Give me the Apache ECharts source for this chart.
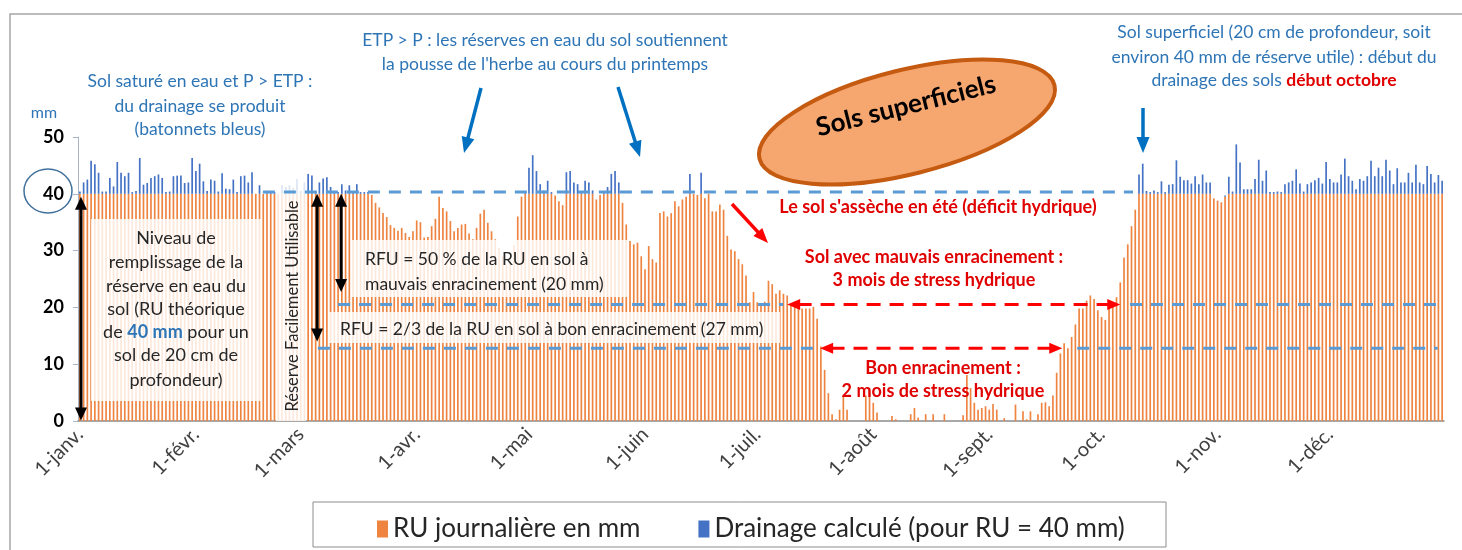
<!DOCTYPE html>
<html>
<head>
<meta charset="utf-8">
<script src="https://cdn.jsdelivr.net/npm/echarts@6/dist/echarts.min.js"></script>
<style>
  html, body { margin: 0; padding: 0; background: #fff; }
  #chart { width: 1462px; height: 550px; }
</style>
</head>
<body>
<div id="chart"></div>
<script>
// month labels and lengths (x axis)
const monthNames = ['janv.', 'févr.', 'mars', 'avr.', 'mai', 'juin', 'juil.', 'août', 'sept.', 'oct.', 'nov.', 'déc.'];
const monthDays = [31, 28, 31, 30, 31, 30, 31, 31, 30, 31, 30, 31];
const yTicks = [0, 10, 20, 30, 40, 50];

// RU journalière en mm, read month by month
const ruJan = [40,40,40,40,40,40,40,40,40,40,40,40,40,40,40,40,40,40,40,40,40,40,40,40,40,40,40,40,40,40,40];
const ruFeb = [40,40,40,40,40,40,40,40,40,40,40,40,40,40,40,40,40,40,40,40,40,40,40,40,40,40,40,40];
const ruMar = [40,40,40,40,40,40,40,40,40,40,40,40,40,40,40,40,40,40,40,39.8,38.4,37.6,36.6,35.9,34.5,34,33.5,34,33.1,32.4,33.4];
const ruApr = [35.3,35,32.3,32.4,34.3,35.6,39.5,37.5,36.9,35.2,33.4,34,34.6,34.7,33,32,34,36.5,37.2,34.9,33.4,32,30.5,29,27.5,29,31,36,39.5,40];
const ruMay = [40,40,40,40,40,40,40,39.7,38.7,38,40,40,40,40,40,40,40,40,39,39.8,40,40,40,40,40,38.4,34.6,31.7,31.1,31.4,29];
const ruJun = [26.7,30.8,28.5,27.9,36.6,36.9,36,36.6,38.7,37.8,39,39.5,40,40,39.8,40,39.2,40,36.9,36.9,38.1,37.2,32.6,30.2,29.9,28.5,27.6,25.6,20.9,22.7];
const ruJul = [20.9,20.6,21,24.7,24.1,22.4,23,22.4,22.1,20.6,20.6,20.1,19.8,19.8,19.8,20.1,18,13.1,9,4.9,1.2,0.3,2,4.4,2,0,0,0,0,4.5,5.8];
const ruAug = [3.2,1.5,0,0,0,0.9,0.3,0,0,0,1.2,2.3,0.6,0,1.2,0,1.2,0,0,1.2,0,0,0,0,1,8.1,5.8,3.2,2,2.3,2.6];
const ruSep = [2,3,2,0,0.5,0,0,2.9,0,1.7,0.3,1.7,0,1.2,3.2,3.3,2.6,4.5,8.5,11.9,13.7,12.8,14.8,17,19.8,19.8,21.2,22.1,21.5,19.5];
const ruOct = [18.3,17.8,20.1,20.9,21.8,24.4,28.8,31.1,34.3,37.2,40,40,40,40,40,40,40,40,40,40,40,40,40,40,40,40,40,40,40,40,39.2];
const ruNov = [38.8,38.5,39.5,40,40,40,40,40,40,40,40,40,40,40,40,40,40,40,40,40,40,40,40,40,40,40,40,40,40,40];
const ruDec = [40,40,40,40,40,40,40,40,40,40,40,40,40,40,40,40,40,40,40,40,40,40,40,40,40,40,40,40,40,40,40];

// Drainage calculé (pour RU = 40 mm)
const drJan = [0.4,2,2.5,5.8,5.2,3.7,0.4,0.4,2.8,1.3,5.6,3.7,3.1,3.7,0.3,0.5,6.3,1.6,1.9,2.8,3.1,3.4,2.8,0.3,0.4,3.1,3.2,3.2,1.9,2,6.3];
const drFeb = [4,5.3,2.2,0.5,2.5,2.3,0.4,3.6,0.9,0.8,2.5,0.3,3.1,3.2,2,3.8,0,1.5,0,0.3,0.3,0.3,0,1.5,1.2,1.5,1,2.6];
const drMar = [0.5,2,3.5,3.2,0.4,2,2.7,2.9,1.2,0.4,0.3,1.7,0.6,1.5,0.3,1.7,0.3,0.3,0.3,0,0,0,0,0,0,0,0,0,0,0,0];
const drApr = [0,0,0,0,0,0,0,0,0,0,0,0,0,0,0,0,0,0,0,0,0,0,0,0,0,0,0,0,0,0.5];
const drMay = [4.6,6.8,4,1.7,0.6,2.3,0.3,0,0,0,3.8,4,2,1.7,0.4,2.3,2,0.6,0,0,0.4,1.2,3.5,4,2,0,0,0,0,0,0];
const drJun = [0,0,0,0,0,0,0,0,0,0,0,0,3.5,0,0,3.7,0,0,0,0,0,0,0,0,0,0,0,0,0,0];
const drJul = [0,0,0,0,0,0,0,0,0,0,0,0,0,0,0,0,0,0,0,0,0,0,0,0,0,0,0,0,0,0,0];
const drAug = [0,0,0,0,0,0,0,0,0,0,0,0,0,0,0,0,0,0,0,0,0,0,0,0,0,0,0,0,0,0,0];
const drSep = [0,0,0,0,0,0,0,0,0,0,0,0,0,0,0,0,0,0,0,0,0,0,0,0,0,0,0,0,0,0];
const drOct = [0,0,0,0,0,0,0,0,0,0,3.4,5.3,0.5,0.3,0.6,0.3,2.2,0.3,1.6,1.7,5.9,3,2.4,2.4,1.8,3.1,1.7,3.4,2,2,0];
const drNov = [0,0,0.2,3,0.4,8.7,5.5,0.8,0.8,0.8,2.6,6,2.3,4.1,0.3,0.3,0.4,0.3,1.7,2,2.3,4.3,1.8,0.4,1.7,2,2.4,2.8,1.8,5.6];
const drDec = [2.6,2,2,3.4,6.2,3.1,2.3,0.8,2.6,2.3,3.1,5.8,3.1,4.6,3.1,6,4.1,1.7,4.5,2,2,3.7,2,5.1,2,1.7,4.9,3.5,2,3.3,2.3];

const ruDaily = [].concat(ruJan, ruFeb, ruMar, ruApr, ruMay, ruJun, ruJul, ruAug, ruSep, ruOct, ruNov, ruDec);
const drainage = [].concat(drJan, drFeb, drMar, drApr, drMay, drJun, drJul, drAug, drSep, drOct, drNov, drDec);

const days = [];
const monthStart = [];
monthDays.forEach(function (n, m) {
  monthStart.push(days.length);
  for (let d = 1; d <= n; d++) days.push(d + '-' + monthNames[m]);
});
const isMonthStart = function (i) { return monthStart.indexOf(i) >= 0; };

const FONT = 'Lato, "Noto Sans", sans-serif';
const BLUE_TXT = '#2E75B6';
const RED = '#E00000';

const chart = echarts.init(document.getElementById('chart'));
chart.setOption({
  animation: false,
  textStyle: { fontFamily: FONT },
  grid: { left: 78, right: 18, top: 137, bottom: 129 },
  legend: {
    data: ['RU journalière en mm', 'Drainage calculé (pour RU = 40 mm)'],
    left: 372, top: 511,
    icon: 'rect', itemWidth: 11, itemHeight: 17, itemGap: 58,
    textStyle: { fontSize: 26, color: '#262626', fontFamily: FONT }
  },
  xAxis: {
    type: 'category',
    data: days,
    axisLine: { lineStyle: { color: '#8C8C8C', width: 1.5 } },
    axisTick: { interval: isMonthStart, length: 6, lineStyle: { color: '#8C8C8C' } },
    axisLabel: { interval: isMonthStart, rotate: 45, fontSize: 20, color: '#404040', margin: 10 },
    splitLine: { show: false }
  },
  yAxis: {
    type: 'value', min: 0, max: 50, interval: 10,
    axisLine: { show: true, lineStyle: { color: '#A9B4C6' } },
    axisTick: { show: true, length: 5, lineStyle: { color: '#A9B4C6' } },
    axisLabel: { fontSize: 18, fontWeight: 'bold', color: '#000', margin: 14,
      formatter: function (v) { return yTicks.indexOf(v) >= 0 ? String(v) : ''; } },
    splitLine: { show: false }
  },
  series: [
    { name: 'RU journalière en mm', type: 'bar', stack: 'ru', data: ruDaily,
      barCategoryGap: '55%', itemStyle: { color: '#EE8440' } },
    { name: 'Drainage calculé (pour RU = 40 mm)', type: 'bar', stack: 'ru', data: drainage,
      barCategoryGap: '55%', itemStyle: { color: '#4472C4' } }
  ]
});

// helpers that tie annotations to the axes
const xa = chart.convertToPixel({ xAxisIndex: 0 }, 0);
const xb = chart.convertToPixel({ xAxisIndex: 0 }, 364);
const bw = (xb - xa) / 364;
const dayX = function (d) { return xa + d * bw; };
const valY = function (v) { return chart.convertToPixel({ yAxisIndex: 0 }, v); };

function head(x, y, ang, len, wid, color) {
  const bx = x - len * Math.cos(ang), by = y - len * Math.sin(ang);
  const px = -Math.sin(ang) * wid / 2, py = Math.cos(ang) * wid / 2;
  return { type: 'polygon', z: 130, shape: { points: [[x, y], [bx + px, by + py], [bx - px, by - py]] }, style: { fill: color } };
}
function arrow(x1, y1, x2, y2, color, w, len, wid, both, dash) {
  const ang = Math.atan2(y2 - y1, x2 - x1);
  const c = Math.cos(ang), s = Math.sin(ang);
  const out = [];
  out.push({ type: 'line', z: 129,
    shape: { x1: both ? x1 + len * 0.8 * c : x1, y1: both ? y1 + len * 0.8 * s : y1, x2: x2 - len * 0.8 * c, y2: y2 - len * 0.8 * s },
    style: { stroke: color, lineWidth: w, lineDash: dash || null } });
  out.push(head(x2, y2, ang, len, wid, color));
  if (both) out.push(head(x1, y1, ang + Math.PI, len, wid, color));
  return out;
}
function dashed(d1, d2, v, color) {
  const y = valY(v);
  return { type: 'line', z: 120, shape: { x1: dayX(d1), y1: y, x2: dayX(d2), y2: y },
    style: { stroke: color, lineWidth: 3, lineDash: [12, 9] } };
}
function txt(x, y, text, extra) {
  return { type: 'text', x: x, y: y, z: 140,
    style: Object.assign({ text: text, fill: BLUE_TXT, font: '17.5px ' + FONT,
      align: 'center', verticalAlign: 'middle', textAlign: 'center', textVerticalAlign: 'middle' }, extra || {}) };
}
function box(x, y, w, h) {
  return { type: 'rect', z: 110, shape: { x: x, y: y, width: w, height: h }, style: { fill: 'rgba(255,255,255,0.82)' } };
}

const DASH_BLUE = '#5B9BD5';
const els = [];
// frame and legend box
els.push({ type: 'rect', z: 0, shape: { x: 10, y: 14, width: 1470, height: 600 }, style: { fill: null, stroke: '#A6A6A6', lineWidth: 1.5 } });
els.push({ type: 'rect', z: 1, shape: { x: 313, y: 502, width: 853, height: 45 }, style: { fill: '#fff', stroke: '#8C8C8C', lineWidth: 1 } });

// translucent label boxes
els.push(box(91, 219, 171, 182));
els.push(box(276, 175, 30, 246));
els.push(box(352, 240, 276, 57));
els.push(box(328, 312, 452, 31));

// dashed reference levels
els.push(dashed(48.9, 281.4, 40.3, DASH_BLUE));
els.push(dashed(69, 187.9, 20.5, DASH_BLUE));
els.push(dashed(280.6, 363.5, 20.5, DASH_BLUE));
els.push(dashed(63.6, 196.7, 12.8, DASH_BLUE));
els.push(dashed(266.5, 362.8, 12.8, DASH_BLUE));

// red stress-period arrows
Array.prototype.push.apply(els, arrow(dayX(189), valY(20.5), dayX(278), valY(20.5), '#FF0000', 3, 13, 11, true, [14, 9]));
Array.prototype.push.apply(els, arrow(dayX(197.8), valY(12.8), dayX(262.5), valY(12.8), '#FF0000', 3, 13, 11, true, [14, 9]));

// black RU / RFU arrows
Array.prototype.push.apply(els, arrow(dayX(0.3), valY(39.5), dayX(0.3), valY(0.1), '#000', 3, 13, 12, true));
Array.prototype.push.apply(els, arrow(dayX(63.4), valY(40), dayX(63.4), valY(14), '#000', 3, 13, 12, true));
Array.prototype.push.apply(els, arrow(dayX(69.8), valY(40), dayX(69.8), valY(22.7), '#000', 3, 13, 12, true));

// pointer arrows
Array.prototype.push.apply(els, arrow(481, 88, 464, 153, '#0070C0', 3.5, 16, 13));
Array.prototype.push.apply(els, arrow(618, 87, 640, 157, '#0070C0', 3.5, 16, 13));
Array.prototype.push.apply(els, arrow(1143, 108, 1143, 153, '#0070C0', 3.5, 16, 13));
Array.prototype.push.apply(els, arrow(732, 204, 768, 243, '#FF0000', 3.5, 15, 12));

// circle around 40 and unit
els.push({ type: 'ellipse', z: 140, shape: { cx: 48, cy: 191, rx: 24, ry: 22 }, style: { fill: null, stroke: '#41719C', lineWidth: 1.5 } });
els.push(txt(44, 113, 'mm', { font: '16px ' + FONT }));

// Sols superficiels badge
const rot = 14 * Math.PI / 180;
els.push({ type: 'ellipse', z: 135, x: 907, y: 122, rotation: rot, shape: { cx: 0, cy: 0, rx: 152, ry: 52 },
  style: { fill: '#F6A66F', stroke: '#C55A11', lineWidth: 4 } });
els.push({ type: 'text', z: 141, x: 906, y: 106, rotation: rot,
  style: { text: 'Sols superficiels', fill: '#000', font: 'bold 26px ' + FONT, align: 'center', verticalAlign: 'middle', textAlign: 'center', textVerticalAlign: 'middle' } });

// blue explanatory texts
els.push(txt(200, 81, 'Sol saturé en eau et P > ETP :'));
els.push(txt(200, 106, 'du drainage se produit'));
els.push(txt(200, 129, '(batonnets bleus)'));
els.push(txt(545, 40, 'ETP > P : les réserves en eau du sol soutiennent'));
els.push(txt(545, 64, "la pousse de l'herbe au cours du printemps"));
els.push(txt(1274, 32, 'Sol superficiel (20 cm de profondeur, soit'));
els.push(txt(1274, 57, 'environ 40 mm de réserve utile) : début du'));
els.push(txt(1274, 80, '{n|drainage des sols }{r|début octobre}', {
  rich: { n: { fill: BLUE_TXT, font: '17.5px ' + FONT }, r: { fill: RED, font: 'bold 17.5px ' + FONT } } }));

// red texts
const redBold = { fill: RED, font: 'bold 18px ' + FONT };
els.push(txt(938, 207, "Le sol s'assèche en été (déficit hydrique)", redBold));
els.push(txt(934, 257, 'Sol avec mauvais enracinement :', redBold));
els.push(txt(934, 280, '3 mois de stress hydrique', redBold));
els.push(txt(943, 368, 'Bon enracinement :', redBold));
els.push(txt(943, 391, '2 mois de stress hydrique', redBold));

// black texts
const blk = { fill: '#262626', font: '18px ' + FONT };
const niveau = ['Niveau de', 'remplissage de la', 'réserve en eau du', 'sol (RU théorique', null, 'sol de 20 cm de', 'profondeur)'];
const niveauY = [238, 262, 286, 309, 332, 355, 380];
niveau.forEach(function (t, i) {
  if (t) els.push(txt(176, niveauY[i], t, blk));
});
els.push(txt(176, 332, '{n|de }{b|40 mm}{n| pour un}', {
  rich: { n: { fill: '#262626', font: '18px ' + FONT }, b: { fill: BLUE_TXT, font: 'bold 18px ' + FONT } } }));
const leftBlk = { fill: '#262626', font: '17.5px ' + FONT, align: 'left', textAlign: 'left' };
els.push(txt(365, 259, 'RFU = 50 % de la RU en sol à', leftBlk));
els.push(txt(365, 284, 'mauvais enracinement (20 mm)', leftBlk));
els.push(txt(340, 329, 'RFU = 2/3 de la RU en sol à bon enracinement (27 mm)', leftBlk));
els.push({ type: 'text', z: 140, x: 293, y: 306, rotation: Math.PI / 2,
  style: { text: 'Réserve Facilement Utilisable', fill: '#262626', font: '16.5px ' + FONT, align: 'center', verticalAlign: 'middle', textAlign: 'center', textVerticalAlign: 'middle' } });

chart.setOption({ graphic: { elements: els } });
</script>
</body>
</html>
